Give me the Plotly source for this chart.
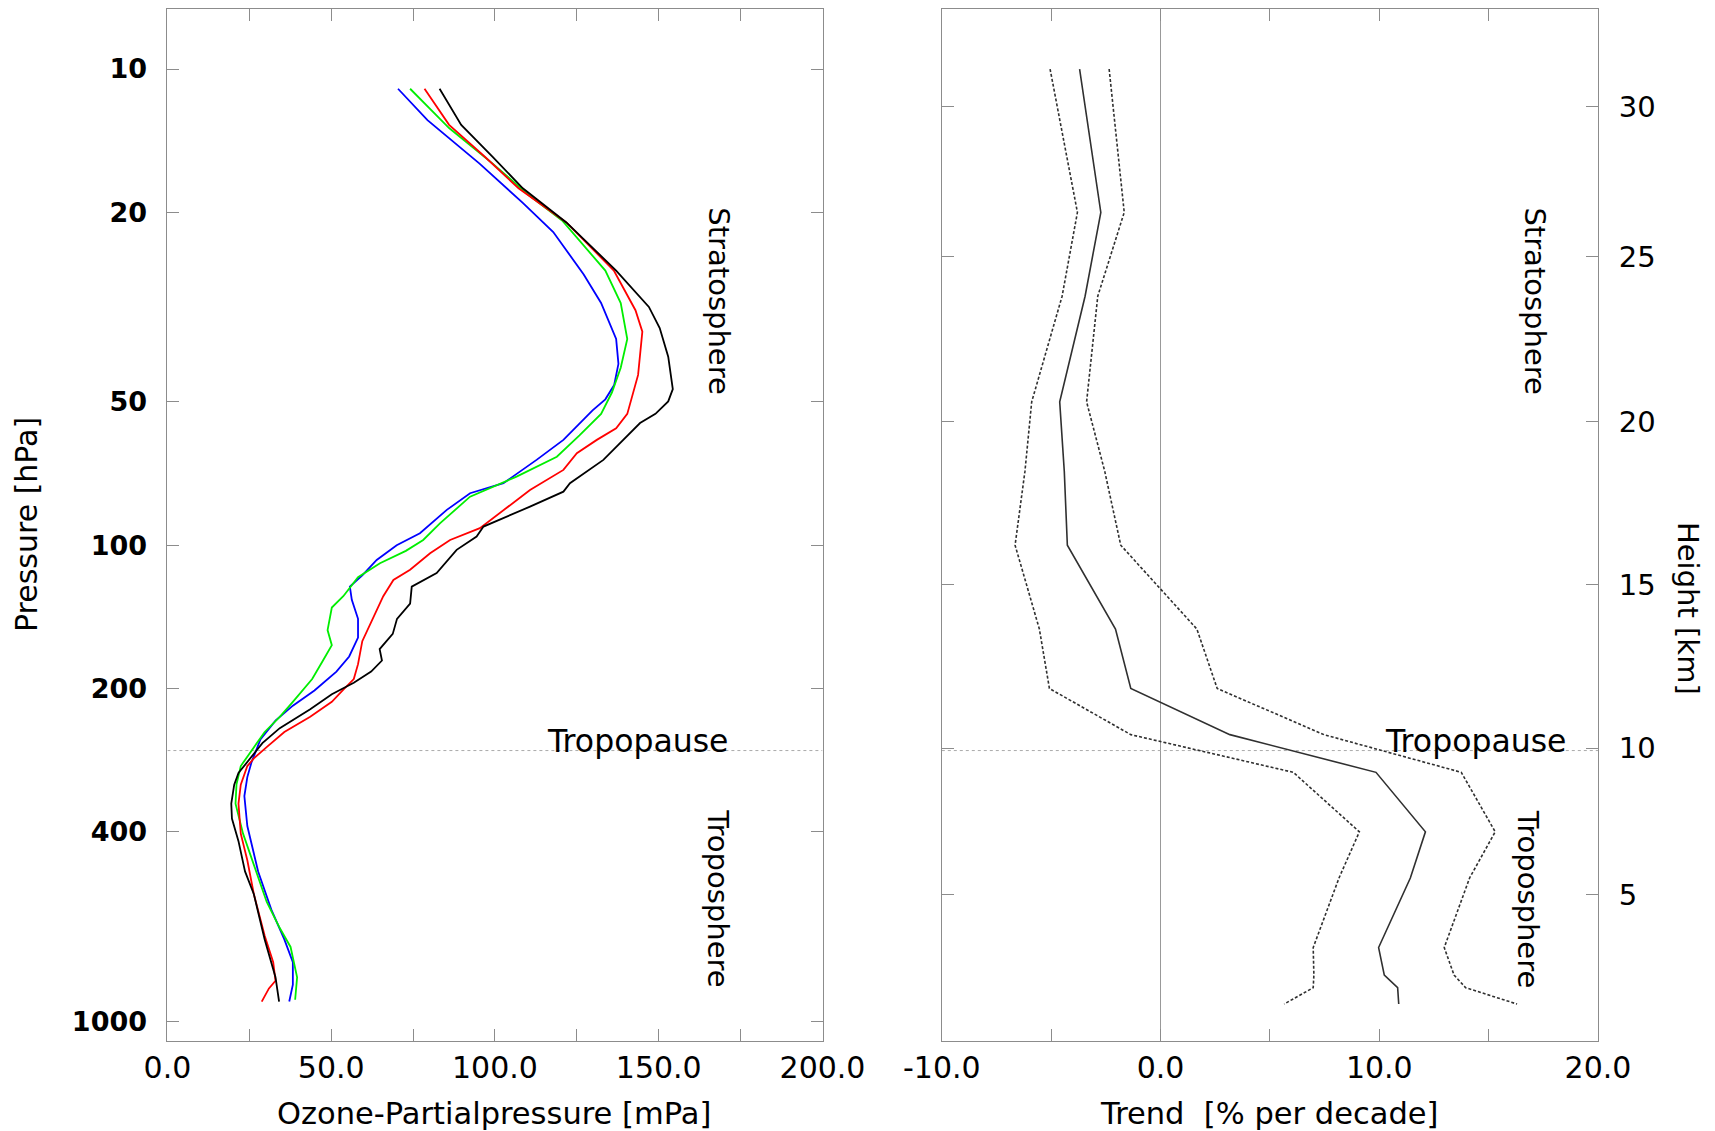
import numpy as np
import plotly.graph_objects as go

# ozone profiles, pressure [hPa] vs partial pressure [mPa]
black_hpa = [11.0, 13.1, 15.3, 17.8, 21.0, 26.5, 31.6, 35.0, 40.2, 47.0, 49.9, 53.0, 55.4, 60.1, 66.2, 74.1, 77.2,
             83.0, 91.4, 95.9, 102.3, 114.5, 122.2, 132.7, 142.8, 153.6, 165.3, 174.7, 184.3, 194.5,
             205.6, 221, 242.3, 260.5, 285.5, 301, 318.4, 349, 375, 418.5, 484.5, 541, 673, 751, 808, 909]
black_mpa = [83.1, 89.7, 99.3, 108.5, 121.8, 137.0, 147.0, 150.3, 152.9, 154.3, 152.9, 149.0, 144.3, 139.2, 133.1, 122.9, 120.9,
             110.7, 96.5, 94.4, 88.3, 82.2, 74.6, 74.1, 70.1, 68.8, 64.8, 65.5, 62.2, 56.9,
             50.2, 43.6, 34.3, 29.0, 24.4, 21.7, 20.4, 19.5, 19.7, 21.7, 23.7, 26.4, 29.7, 31.7, 33.0, 34.1]

red_hpa = [11.0, 13.1, 15.3, 17.8, 21.0, 26.5, 32.1, 35.6, 43.9, 47.7, 53.0, 56.8, 60.1, 64.1, 69.5, 76.6,
           92.1, 97.5, 104.0, 112.6, 118.3, 128, 132.7, 145.3, 159.1, 177.8, 191.1, 201.9, 213.3,
           229.4, 246.8, 265.5, 280.5, 291, 318.4, 349, 403.5, 459, 541, 661, 751, 822, 853, 909]
red_mpa = [78.5, 86.0, 97.0, 107.2, 121.8, 136.3, 142.9, 145.0, 143.7, 142.3, 140.4, 137.0, 131.1, 125.0, 120.9, 110.7,
           95.4, 86.3, 80.2, 74.1, 69.0, 65.9, 64.8, 62.2, 59.5, 58.2, 56.9, 53.5, 50.2,
           43.6, 35.7, 30.3, 26.4, 24.4, 22.4, 21.7, 22.4, 24.4, 26.4, 29.7, 32.3, 33.0, 31.0, 28.8]

green_hpa = [11.0, 13.3, 15.8, 18.3, 20.8, 26.5, 31.0, 36.9, 42.4, 47.8, 53.0, 58.8, 65.2, 71.8, 79.1, 90.0,
             97.5, 102.8, 109.1, 116.8, 128, 135.2, 150.8, 162.2, 174.7, 191, 213.3, 229.4, 246.8,
             270.4, 291, 318, 349, 403.5, 467.7, 561, 637, 698, 808, 901]
green_mpa = [74.1, 86.0, 99.3, 109.9, 120.5, 133.7, 138.4, 140.4, 138.4, 135.7, 132.4, 125.8, 118.9, 106.6, 92.4, 83.2,
             78.1, 72.8, 64.9, 58.2, 53.7, 50.2, 48.9, 50.2, 47.5, 44.2, 38.3, 34.3, 29.7,
             25.7, 22.4, 21.1, 20.8, 23.1, 26.4, 30.3, 34.3, 37.6, 39.6, 39.0]

blue_hpa = [11.0, 12.8, 15.8, 19.1, 22.0, 27.0, 31.0, 36.9, 41.6, 46.1, 49.4, 52.1, 60.1, 66.2, 74.1, 77.8,
            84.3, 94.4, 100.0, 107.4, 115.7, 122.2, 130.3, 142.8, 156.3, 171.3, 184.3, 201.9,
            217.3, 233.7, 256, 285.5, 307, 336.5, 389, 484.5, 582, 673, 751, 838, 909]
blue_mpa = [70.4, 79.4, 95.3, 108.5, 117.8, 127.1, 132.4, 137.0, 137.7, 136.4, 133.7, 129.8, 120.9, 112.7, 102.6, 92.4,
            85.3, 77.1, 70.0, 63.9, 59.5, 55.7, 56.3, 58.2, 58.2, 55.5, 51.6, 44.9,
            38.3, 33.0, 28.4, 25.7, 24.4, 23.5, 24.4, 27.7, 31.7, 35.7, 38.3, 38.3, 37.2]

# trend profiles [% per decade] with lower / upper bounds
trend_hpa = [10, 20, 30, 50, 70, 100, 150, 200, 250, 300, 400, 500, 700, 800, 850, 920]
trend_mid = [-3.70, -2.73, -3.45, -4.61, -4.40, -4.26, -2.06, -1.36, 3.17, 9.85, 12.11, 11.42, 9.97, 10.23, 10.84, 10.89]
trend_low = [-5.05, -3.80, -4.50, -5.89, -6.20, -6.65, -5.54, -5.08, -1.36, 6.07, 9.09, 8.16, 6.98, 7.01, 6.98, 5.65]
trend_high = [-2.35, -1.66, -2.87, -3.38, -2.55, -1.82, 1.66, 2.59, 7.47, 13.75, 15.30, 14.13, 12.97, 13.42, 13.95, 16.30]

pressure_ticks = [10, 20, 50, 100, 200, 400, 1000]
height_km = [5, 10, 15, 20, 25, 30]
height_hpa = [542, 267, 121, 55, 24.8, 12.0]
ozone_ticks = [0, 50, 100, 150, 200]
trend_ticks = [-10, 0, 10, 20]
tropopause_hpa = 270

FONT = "DejaVu Sans"
AX = "#8c8c8c"
W, H = 1699, 1123  # page body adds an 8px margin
yrange = [np.log10(1100), np.log10(7.48)]

fig = go.Figure()

fig.add_trace(go.Scatter(x=[0, 200], y=[tropopause_hpa, tropopause_hpa], mode="lines",
                         line=dict(color="#aaaaaa", width=1, dash="dot"), xaxis="x", yaxis="y"))
fig.add_trace(go.Scatter(x=[-10, 20], y=[tropopause_hpa, tropopause_hpa], mode="lines",
                         line=dict(color="#aaaaaa", width=1, dash="dot"), xaxis="x2", yaxis="y2"))

for xs, ys, col in [(blue_mpa, blue_hpa, "#0000ff"), (green_mpa, green_hpa, "#00ee00"),
                    (red_mpa, red_hpa, "#ff0000"), (black_mpa, black_hpa, "#000000")]:
    fig.add_trace(go.Scatter(x=xs, y=ys, mode="lines", line=dict(color=col, width=1.8),
                             xaxis="x", yaxis="y"))

for xs, dash in [(trend_low, "3px,2px"), (trend_mid, "solid"), (trend_high, "3px,2px")]:
    fig.add_trace(go.Scatter(x=xs, y=trend_hpa, mode="lines", line=dict(color="#303030", width=1.6, dash=dash),
                             xaxis="x2", yaxis="y2"))

common = dict(showgrid=False, showline=True, linecolor=AX, linewidth=1, ticks="inside", ticklen=12,
              tickcolor=AX, tickwidth=1, mirror="ticks", automargin=False)

fig.update_layout(
    width=W, height=H, showlegend=False,
    plot_bgcolor="white", paper_bgcolor="white",
    margin=dict(l=0, r=0, t=1, b=90, autoexpand=False),
    font=dict(family=FONT, size=29, color="black"),
    xaxis=dict(domain=[0.09382, 0.47940], range=[0, 200], anchor="y", zeroline=False,
               tickvals=ozone_ticks, ticktext=[f"{v:.1f}" for v in ozone_ticks],
               minor=dict(dtick=25, tick0=0, ticks="inside", ticklen=12, tickcolor=AX),
               tickfont=dict(size=30), ticklabelstandoff=0, **common),
    yaxis=dict(domain=[0, 1], type="log", range=yrange, anchor="x",
               tickvals=pressure_ticks, ticktext=[str(v) for v in pressure_ticks],
               tickfont=dict(size=27, weight="bold"), ticklabelstandoff=14, **common),
    xaxis2=dict(domain=[0.54962, 0.93585], range=[-10, 20], anchor="y2",
                zeroline=True, zerolinecolor="#999999", zerolinewidth=1,
                tickvals=trend_ticks, ticktext=[f"{v:.1f}" for v in trend_ticks],
                minor=dict(dtick=5, tick0=0, ticks="inside", ticklen=12, tickcolor=AX),
                tickfont=dict(size=30), ticklabelstandoff=0, **common),
    yaxis2=dict(domain=[0, 1], type="log", range=yrange, anchor="x2", side="right",
                tickvals=height_hpa, ticktext=[str(v) for v in height_km],
                ticklabelstandoff=14, **common),
)

ann = []
# axis titles
ann.append(dict(text="Ozone-Partialpressure [mPa]", xref="paper", yref="paper", x=486 / W, y=-0.0698,
                showarrow=False, xanchor="center", yanchor="middle", font=dict(size=30.5)))
ann.append(dict(text="Trend  [% per decade]", xref="paper", yref="paper", x=1261 / W, y=-0.0698,
                showarrow=False, xanchor="center", yanchor="middle", font=dict(size=30.5)))
ann.append(dict(text="Pressure [hPa]", xref="paper", yref="paper", x=18 / W, y=0.5,
                showarrow=False, textangle=-90, xanchor="center", yanchor="middle", font=dict(size=30)))
ann.append(dict(text="Height [km]", xref="paper", yref="paper", x=1680 / W, y=0.4196,
                showarrow=False, textangle=90, xanchor="center", yanchor="middle"))
# region labels
for xr, yr, xs, xt in [("x", "y", 168.3, 143.6), ("x2", "y2", 17.1, 14.38)]:
    ann.append(dict(text="Stratosphere", xref=xr, yref=yr, x=xs, y=np.log10(30.7), showarrow=False,
                    textangle=90, xanchor="center", yanchor="middle"))
    ann.append(dict(text="Troposphere", xref=xr, yref=yr, x=xs - 0.3 * (xr == "x2"), y=np.log10(553),
                    showarrow=False, textangle=90, xanchor="center", yanchor="middle"))
    ann.append(dict(text="Tropopause", xref=xr, yref=yr, x=xt, y=np.log10(257.7), showarrow=False,
                    xanchor="center", yanchor="middle", font=dict(size=31.5)))
fig.update_layout(annotations=ann)

fig.write_html("out.html")
